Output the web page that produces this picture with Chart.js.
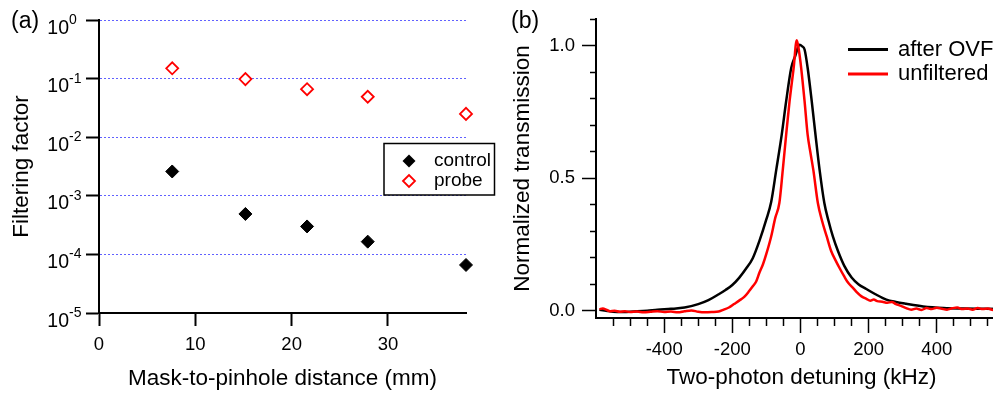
<!DOCTYPE html>
<html>
<head>
<meta charset="utf-8">
<script src="https://cdn.jsdelivr.net/npm/chart.js@4.4.1/dist/chart.umd.min.js"></script>
<style>
  html, body { margin: 0; padding: 0; background: #fff; overflow: hidden; }
  #wrap { position: relative; width: 993px; height: 396px; overflow: hidden; }
  canvas { position: absolute; top: 0; }
  #chartA { left: 0; }
  #chartB { left: 497px; }
  .tag { position: absolute; top: 7px; font: 23px "Liberation Sans", Arial, sans-serif; line-height: 26px; color: #000; }
</style>
</head>
<body>
<div id="wrap">
  <canvas id="chartA" width="497" height="396"></canvas>
  <canvas id="chartB" width="510" height="396"></canvas>
  <div class="tag" style="left:11px">(a)</div>
  <div class="tag" style="left:511px">(b)</div>
</div>
<script>
const FONT = '"Liberation Sans", Arial, Helvetica, sans-serif';

// ---- panel (a): filtering factor vs mask-to-pinhole distance
const distances = [7.6, 15.2, 21.6, 27.9, 38.1];
const controlFactor = [2.6e-3, 4.9e-4, 3.0e-4, 1.65e-4, 6.6e-5];
const probeFactor = [0.15, 0.098, 0.066, 0.049, 0.025];
const decadeTicks = [1e0, 1e-1, 1e-2, 1e-3, 1e-4, 1e-5];
const decadeExponents = ['0', '-1', '-2', '-3', '-4', '-5'];
const distanceTicks = [0, 10, 20, 30];

// ---- panel (b): normalized transmission vs two-photon detuning
const ovfDetuning = [-590, -570, -550, -520, -490, -450, -420, -380, -340, -300,
  -270, -240, -220, -200, -180, -160, -140, -120, -100, -86,
  -71, -55, -42, -27, -15, -3, 5, 12, 21, 33,
  44, 56, 70, 82, 95, 110, 129, 150, 170, 193,
  220, 252, 280, 310, 360, 420, 480, 540, 600];
const ovfTransmission = [0.004, 0.000, -0.004, -0.005, -0.003, 0.000, 0.004, 0.007, 0.012, 0.025,
  0.040, 0.062, 0.078, 0.097, 0.124, 0.158, 0.198, 0.265, 0.345, 0.41,
  0.532, 0.664, 0.79, 0.916, 0.962, 1.003, 0.997, 0.985, 0.916, 0.79,
  0.664, 0.532, 0.406, 0.34, 0.28, 0.225, 0.168, 0.125, 0.10, 0.082,
  0.062, 0.042, 0.033, 0.026, 0.016, 0.010, 0.008, 0.007, 0.006];
const rawDetuning = [-590, -580, -570, -560, -545, -530, -515, -500, -480, -460,
  -440, -420, -400, -380, -360, -340, -320, -300, -280, -260,
  -240, -225, -210, -195, -180, -165, -150, -140, -130, -120,
  -110, -100, -86, -74, -62, -52, -42, -32, -20, -11,
  -5, 2, 12, 21, 30, 38, 51, 63, 77, 90,
  103, 115, 128, 140, 154, 165, 178, 193, 205, 215,
  225, 240, 255, 268, 280, 295, 310, 325, 340, 355,
  370, 385, 400, 415, 430, 445, 460, 475, 490, 505,
  520, 535, 550, 565, 580, 595, 610];
const rawTransmission = [0.006, 0.008, 0.004, -0.002, 0.000, -0.004, -0.002, -0.005, -0.003, -0.006,
  -0.004, -0.002, -0.005, -0.003, -0.006, -0.002, 0.001, -0.004, -0.006, -0.005,
  -0.003, 0.004, 0.012, 0.025, 0.038, 0.052, 0.075, 0.092, 0.11, 0.145,
  0.175, 0.215, 0.28, 0.35, 0.406, 0.53, 0.664, 0.79, 0.916, 1.02,
  0.985, 0.916, 0.79, 0.664, 0.59, 0.528, 0.406, 0.34, 0.28, 0.225,
  0.19, 0.16, 0.13, 0.105, 0.086, 0.07, 0.055, 0.045, 0.038, 0.042,
  0.036, 0.034, 0.03, 0.033, 0.025, 0.018, 0.01, 0.004, 0.008, 0.003,
  0.010, 0.006, 0.011, 0.007, 0.004, 0.009, 0.012, 0.006, 0.008, 0.004,
  0.010, 0.006, 0.008, 0.003, 0.009, 0.005, 0.007];
const detuningMajor = [-400, -200, 0, 200, 400];
const detuningMinor = [-550, -500, -450, -350, -300, -250, -150, -100, -50,
  50, 100, 150, 250, 300, 350, 450, 500, 550, 600];
const transMajor = [0, 0.5, 1.0];
const transMinor = [0.1, 0.2, 0.3, 0.4, 0.6, 0.7, 0.8, 0.9, 1.1];

Chart.defaults.font.family = FONT;
Chart.defaults.color = '#000';

const toTicks = arr => scale => { scale.ticks = arr.map(v => ({ value: v })); };

/* ========================================================
   PANEL (a)
   ======================================================== */
const panelAExtras = {
  id: 'panelAExtras',
  afterDraw(chart) {
    const ctx = chart.ctx;
    const yScale = chart.scales.y;
    ctx.save();
    ctx.fillStyle = '#000';
    ctx.textBaseline = 'alphabetic';
    // decade labels with superscript exponent
    decadeTicks.forEach((v, i) => {
      const y = yScale.getPixelForValue(v);
      ctx.font = '19.5px ' + FONT;
      ctx.textAlign = 'right';
      ctx.fillText('10', 69, y + 13.5);
      ctx.font = '14px ' + FONT;
      ctx.textAlign = 'left';
      ctx.fillText(decadeExponents[i], 69, y + 4);
    });

    // legend box
    ctx.lineWidth = 1.5;
    ctx.strokeStyle = '#000';
    ctx.strokeRect(384, 143.5, 110.5, 51.5);

    const diamond = (x, y, r) => {
      ctx.beginPath();
      ctx.moveTo(x - r, y);
      ctx.lineTo(x, y - r);
      ctx.lineTo(x + r, y);
      ctx.lineTo(x, y + r);
      ctx.closePath();
    };
    diamond(409, 161, 6.5);
    ctx.fillStyle = '#000';
    ctx.fill();
    diamond(409, 181, 6);
    ctx.fillStyle = '#fff';
    ctx.fill();
    ctx.strokeStyle = '#ff0000';
    ctx.lineWidth = 1.8;
    ctx.stroke();

    ctx.fillStyle = '#000';
    ctx.font = '19px ' + FONT;
    ctx.textAlign = 'left';
    ctx.textBaseline = 'middle';
    ctx.fillText('control', 434, 161);
    ctx.fillText('probe', 434, 181);
    ctx.restore();
  }
};

new Chart(document.getElementById('chartA'), {
  type: 'scatter',
  data: {
    datasets: [
      {
        label: 'control',
        data: distances.map((x, i) => ({ x, y: controlFactor[i] })),
        pointStyle: 'rectRot',
        pointRadius: 6.5,
        pointBackgroundColor: '#000',
        pointBorderColor: '#000',
        pointBorderWidth: 1,
        clip: false
      },
      {
        label: 'probe',
        data: distances.map((x, i) => ({ x, y: probeFactor[i] })),
        pointStyle: 'rectRot',
        pointRadius: 6,
        pointBackgroundColor: '#fff',
        pointBorderColor: '#ff0000',
        pointBorderWidth: 1.8,
        clip: false
      }
    ]
  },
  options: {
    responsive: false,
    animation: false,
    events: [],
    layout: { padding: { top: 20, right: 31, left: 0, bottom: 0 } },
    plugins: { legend: { display: false }, tooltip: { enabled: false } },
    scales: {
      x: {
        type: 'linear',
        min: 0,
        max: 38.1,
        afterBuildTicks: toTicks(distanceTicks),
        afterFit: s => { s.height = 83; },
        grid: { drawOnChartArea: false, tickLength: 13, tickColor: '#000', tickWidth: 2 },
        border: { color: '#000', width: 2 },
        ticks: { font: { size: 18.5 }, padding: 8, maxRotation: 0 },
        title: { display: true, text: 'Mask-to-pinhole distance (mm)', font: { size: 22.5 }, padding: { top: 0, bottom: 4 } }
      },
      y: {
        type: 'logarithmic',
        min: 1e-5,
        max: 1,
        afterBuildTicks: toTicks(decadeTicks),
        afterFit: s => { s.width = 99; },
        grid: {
          color: c => (c.tick && c.tick.value < 2e-5) ? 'rgba(0,0,0,0)' : 'rgba(80,80,255,0.9)',
          lineWidth: 1,
          tickLength: 13,
          tickColor: '#000',
          tickWidth: 2
        },
        border: { color: '#000', width: 2, dash: [2, 2] },
        ticks: { display: false },
        title: { display: true, text: 'Filtering factor', font: { size: 22.5 }, padding: { top: 8, bottom: 0 } }
      }
    }
  },
  plugins: [panelAExtras]
});

/* ========================================================
   PANEL (b)
   ======================================================== */
const panelBLegend = {
  id: 'panelBLegend',
  afterDraw(chart) {
    const ctx = chart.ctx;
    ctx.save();
    ctx.lineWidth = 3;
    ctx.strokeStyle = '#000';
    ctx.beginPath(); ctx.moveTo(351, 49.5); ctx.lineTo(391, 49.5); ctx.stroke();
    ctx.strokeStyle = '#ff0000';
    ctx.beginPath(); ctx.moveTo(351, 74); ctx.lineTo(391, 74); ctx.stroke();
    ctx.fillStyle = '#000';
    ctx.font = '22px ' + FONT;
    ctx.textAlign = 'left';
    ctx.textBaseline = 'middle';
    ctx.fillText('after OVF', 401, 49.5);
    ctx.fillText('unfiltered', 401, 74);
    ctx.restore();
  }
};

const detMin = -600, detMax = 606;
const transMin = -0.0275, transMax = 1.1;

new Chart(document.getElementById('chartB'), {
  type: 'line',
  data: {
    datasets: [
      {
        label: 'after OVF',
        data: ovfDetuning.map((x, i) => ({ x, y: ovfTransmission[i] })),
        borderColor: '#000',
        borderWidth: 2.5,
        pointRadius: 0,
        cubicInterpolationMode: 'monotone',
        xAxisID: 'x',
        yAxisID: 'y',
        order: 1
      },
      {
        label: 'unfiltered',
        data: rawDetuning.map((x, i) => ({ x, y: rawTransmission[i] })),
        borderColor: '#ff0000',
        borderWidth: 2.5,
        pointRadius: 0,
        cubicInterpolationMode: 'monotone',
        xAxisID: 'x',
        yAxisID: 'y',
        order: 0
      }
    ]
  },
  options: {
    responsive: false,
    animation: false,
    events: [],
    layout: { padding: { top: 19, right: 0, left: 0, bottom: 0 } },
    plugins: { legend: { display: false }, tooltip: { enabled: false } },
    scales: {
      x: {
        type: 'linear',
        position: 'bottom',
        weight: 1,
        min: detMin,
        max: detMax,
        afterBuildTicks: toTicks(detuningMajor),
        afterFit: s => { s.height = 78; },
        grid: { drawOnChartArea: false, tickLength: 15, tickColor: '#000', tickWidth: 1.5 },
        border: { color: '#000', width: 2 },
        ticks: { font: { size: 18.5 }, padding: 6, maxRotation: 0 },
        title: { display: true, text: 'Two-photon detuning (kHz)', font: { size: 22.5 }, padding: { top: 0, bottom: 5 } }
      },
      xMinor: {
        type: 'linear',
        position: 'bottom',
        weight: 0,
        min: detMin,
        max: detMax,
        afterBuildTicks: toTicks(detuningMinor),
        afterFit: s => { s.height = 0; },
        grid: { drawOnChartArea: false, tickLength: 8, tickColor: '#000', tickWidth: 1.5 },
        border: { display: false },
        ticks: { display: false }
      },
      y: {
        type: 'linear',
        position: 'left',
        weight: 1,
        min: transMin,
        max: transMax,
        afterBuildTicks: toTicks(transMajor),
        afterFit: s => { s.width = 99; },
        grid: { drawOnChartArea: false, tickLength: 14, tickColor: '#000', tickWidth: 1.5 },
        border: { color: '#000', width: 2 },
        ticks: { font: { size: 18.5 }, padding: 7, callback: v => v.toFixed(1) },
        title: { display: true, text: 'Normalized transmission', font: { size: 22.5 }, padding: { top: 12, bottom: 0 } }
      },
      yMinor: {
        type: 'linear',
        position: 'left',
        weight: 0,
        min: transMin,
        max: transMax,
        afterBuildTicks: toTicks(transMinor),
        afterFit: s => { s.width = 0; },
        grid: { drawOnChartArea: false, tickLength: 6, tickColor: '#000', tickWidth: 1.5 },
        border: { display: false },
        ticks: { display: false }
      }
    }
  },
  plugins: [panelBLegend]
});
</script>
</body>
</html>
